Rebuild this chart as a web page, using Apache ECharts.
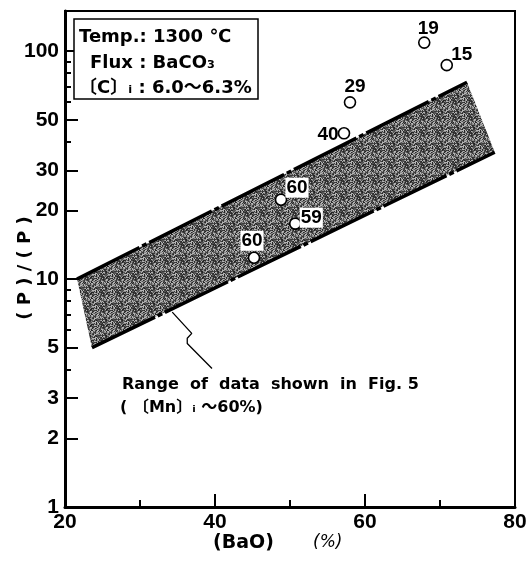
<!DOCTYPE html>
<html>
<head>
<meta charset="utf-8">
<script src="https://cdn.jsdelivr.net/npm/echarts@6/dist/echarts.min.js"></script>
<style>
  html, body { margin: 0; padding: 0; background: #fff; }
  #chart { width: 532px; height: 561px; }
</style>
</head>
<body>
<div id="chart"></div>
<script>
// Measured runs: (BaO) % and phosphorus distribution ratio, with run labels
const baoPct    = [67.9, 70.9, 58.0, 57.2, 48.8, 50.7, 45.2];
const pRatio    = [109, 86.8, 59.6, 43.6, 22.3, 17.5, 12.4];
const runLabels = ['19', '15', '29', '40', '60', '59', '60'];

// Band showing the range of data of Fig. 5 ([BaO] %, ratio)
const bandUpper = [[21.6, 10], [73.6, 73]];
const bandLower = [[23.6, 5], [77.3, 36]];
// Leader from the band to its caption
const leaderPath = [[34.3, 7.16], [36.9, 5.78], [36.3, 5.5], [36.3, 5.22], [39.6, 4.05]];

// Axis ticks
const yMajorTicks = [1, 2, 3, 5, 10, 20, 30, 50, 100];
const yMinorTicks = [4, 6, 7, 8, 9, 40, 60, 70, 80, 90];

// Label placement around each marker (pixels)
const labelOffsets = [[4, -14], [15, -10], [5, -16], [-16, 1], [16, -12], [16, -6], [-2, -17]];
const labelBoxed   = [false, false, false, false, true, true, true];

const NUM = '"Liberation Sans", Arial, sans-serif';
const WIDE = '"DejaVu Sans", "Noto Sans CJK JP", sans-serif';

// Grainy halftone tile for the band (fixed integer hash, so it is identical every run)
function stipple() {
  const n = 16;
  const c = document.createElement('canvas');
  c.width = n; c.height = n;
  const g = c.getContext('2d');
  const shades = ['#262626', '#3a3a3a', '#555555', '#8a8a8a', '#b4b4b4'];
  for (let y = 0; y < n; y++) {
    for (let x = 0; x < n; x++) {
      let h = Math.imul(x + 1, 374761393) + Math.imul(y + 1, 668265263);
      h = Math.imul(h ^ (h >>> 13), 1274126177);
      h = (h ^ (h >>> 16)) >>> 0;
      g.fillStyle = shades[h % shades.length];
      g.fillRect(x, y, 1, 1);
    }
  }
  return c;
}

const chart = echarts.init(document.getElementById('chart'), null, { renderer: 'canvas' });

const points = baoPct.map((x, i) => ({
  value: [x, pRatio[i]],
  label: {
    show: true,
    formatter: runLabels[i],
    position: 'inside',
    offset: labelOffsets[i],
    backgroundColor: labelBoxed[i] ? '#fff' : 'transparent',
    padding: labelBoxed[i] ? [1, 1, 0, 1] : 0
  }
}));

chart.setOption({
  animation: false,
  backgroundColor: '#fff',
  grid: {
    left: 65, right: 17, top: 11, bottom: 54,
    show: true, borderColor: '#000', borderWidth: 2, backgroundColor: 'transparent'
  },
  xAxis: {
    type: 'value', min: 20, max: 80, interval: 20,
    axisLine: { lineStyle: { color: '#000', width: 3 } },
    axisTick: { inside: true, length: 13, lineStyle: { color: '#000', width: 2 } },
    minorTick: { show: true, splitNumber: 2, length: 7, lineStyle: { color: '#000', width: 2 } },
    splitLine: { show: false },
    minorSplitLine: { show: false },
    axisLabel: { color: '#000', fontSize: 21, fontWeight: 'bold', fontFamily: NUM, margin: 5 }
  },
  yAxis: [
    {
      type: 'log', logBase: 10, min: 1, max: 150,
      axisLine: { lineStyle: { color: '#000', width: 3 } },
      axisTick: { inside: true, length: 13, customValues: yMajorTicks, lineStyle: { color: '#000', width: 2 } },
      axisLabel: { customValues: yMajorTicks, color: '#000', fontSize: 21, fontWeight: 'bold', fontFamily: NUM, margin: 6 },
      splitLine: { show: false }
    },
    {
      type: 'log', logBase: 10, min: 1, max: 150, position: 'left',
      axisLine: { show: false },
      axisTick: { inside: true, length: 6, customValues: yMinorTicks, lineStyle: { color: '#000', width: 2 } },
      axisLabel: { show: false },
      splitLine: { show: false }
    }
  ],
  series: [
    {
      type: 'custom', silent: true, z: 1,
      data: [bandUpper[0]],
      renderItem: (params, api) => {
        const pts = [bandUpper[0], bandUpper[1], bandLower[1], bandLower[0]].map(p => api.coord(p));
        return {
          type: 'polygon',
          shape: { points: pts },
          style: { fill: { image: stipple(), repeat: 'repeat' } }
        };
      }
    },
    {
      type: 'line', data: bandUpper, symbol: 'none', silent: true, z: 2,
      lineStyle: { color: '#000', width: 3.5, type: [70, 3, 5, 3] }
    },
    {
      type: 'line', data: bandLower, symbol: 'none', silent: true, z: 2,
      lineStyle: { color: '#000', width: 3.5, type: [70, 3, 5, 3] }
    },
    {
      type: 'line', data: leaderPath, symbol: 'none', silent: true, z: 2,
      lineStyle: { color: '#000', width: 1.3 }
    },
    {
      type: 'scatter', data: points, symbol: 'circle', symbolSize: 11, z: 5,
      itemStyle: { color: '#fff', borderColor: '#000', borderWidth: 1.6, opacity: 1 },
      label: { color: '#000', fontSize: 19, fontWeight: 'bold', fontFamily: NUM, align: 'center', verticalAlign: 'middle' }
    }
  ],
  graphic: [
    { type: 'rect', shape: { x: 74, y: 19, width: 184, height: 80 },
      style: { fill: '#fff', stroke: '#000', lineWidth: 1.5 }, z: 10 },
    { type: 'text', x: 79, y: 37, z: 11,
      style: { text: 'Temp.: 1300 ℃', font: 'bold 18px ' + WIDE, fill: '#000', verticalAlign: 'middle' } },
    { type: 'text', x: 90, y: 63, z: 11,
      style: { text: 'Flux : BaCO₃', font: 'bold 18px ' + WIDE, fill: '#000', verticalAlign: 'middle' } },
    { type: 'text', x: 79, y: 88, z: 11,
      style: { text: '〔C〕ᵢ : 6.0～6.3%', font: 'bold 18px ' + WIDE, fill: '#000', verticalAlign: 'middle' } },
    { type: 'text', x: 122, y: 385, z: 11,
      style: { text: 'Range  of  data  shown  in  Fig. 5', font: 'bold 16px ' + WIDE, fill: '#000', verticalAlign: 'middle' } },
    { type: 'text', x: 120, y: 408, z: 11,
      style: { text: '( 〔Mn〕ᵢ ～60%)', font: 'bold 16px ' + WIDE, fill: '#000', verticalAlign: 'middle' } },
    { type: 'text', x: 25, y: 268, rotation: Math.PI / 2, z: 11,
      style: { text: '( P ) / ( P )', font: 'bold 18px ' + WIDE, fill: '#000', align: 'center', verticalAlign: 'middle' } },
    { type: 'text', x: 213, y: 543, z: 11,
      style: { text: '(BaO)', font: 'bold 19px ' + WIDE, fill: '#000', verticalAlign: 'middle' } },
    { type: 'text', x: 313, y: 543, z: 11,
      style: { text: '(%)', font: 'italic 17px ' + WIDE, fill: '#000', verticalAlign: 'middle' } }
  ]
});
</script>
</body>
</html>
